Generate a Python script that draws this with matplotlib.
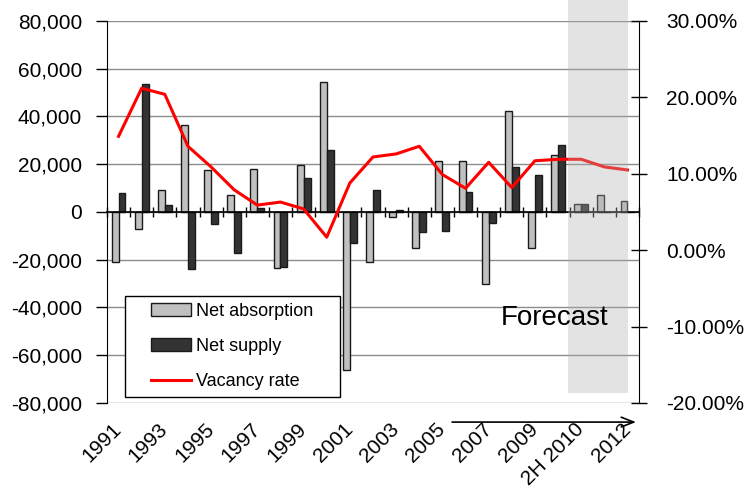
import numpy as np
import matplotlib
matplotlib.use("Agg")
import matplotlib.pyplot as plt
import matplotlib.ticker as mticker
import matplotlib.transforms as mtransforms
from matplotlib.patches import Rectangle

plt.rcParams['font.family'] = ['Liberation Sans', 'DejaVu Sans']

# Data
periods = ['1991', '1992', '1993', '1994', '1995', '1996', '1997', '1998',
           '1999', '2000', '2001', '2002', '2003', '2004', '2005', '2006',
           '2007', '2008', '2009', '1H 2010', '2H 2010', '2011', '2012']
net_absorption = [-20800, -7200, 9200, 36300, 17600, 7100, 18100, -23300,
                  19500, 54500, -66100, -20800, -2100, -14900, 21300, 21300,
                  -30300, 42100, -14900, 24000, 3300, 7200, 4700]
net_supply = [7800, 53800, 2800, -24000, -5100, -17000, 1800, -22900,
              14400, 25900, -13100, 9200, 800, -8400, -8000, 8500,
              -4500, 19000, 15600, 27900, 3300, 0, 0]
vacancy_rate = [14.9, 21.2, 20.4, 13.6, 10.9, 7.9, 5.9, 6.3,
                5.4, 1.7, 8.8, 12.2, 12.6, 13.6, 9.9, 8.1,
                11.5, 8.2, 11.7, 11.9, 11.9, 10.9, 10.5]
label_every = 2
forecast_start = 20  # first forecast category

x = np.arange(len(periods))
fig = plt.figure(figsize=(7.46, 4.95), dpi=100)
ax = fig.add_axes([0.1434, 0.1859, 0.7132, 0.7717])

ax.bar(x - 0.15, net_absorption, width=0.3, color='#c0c0c0',
       edgecolor='#1a1a1a', linewidth=1, label='Net absorption', zorder=3)
ax.bar(x + 0.15, net_supply, width=0.3, color='#333333',
       edgecolor='#1a1a1a', linewidth=1, label='Net supply', zorder=3)

ax.set_xlim(-0.5, len(periods) - 0.5)
ax.set_ylim(-80000, 80000)
ax.set_yticks(np.arange(-80000, 80001, 20000))
ax.yaxis.set_major_formatter(mticker.FuncFormatter(lambda v, p: f'{v:,.0f}'))
ax.grid(axis='y', color='#8c8c8c', linewidth=1, zorder=0)
ax.set_axisbelow(True)
ax.tick_params(axis='y', direction='out', length=8, width=1, pad=10,
               labelsize=15)

ax.spines['top'].set_visible(False)
ax.spines['right'].set_visible(False)
ax.spines['left'].set_color('black')
ax.spines['bottom'].set_position(('data', 0))
ax.spines['bottom'].set_color('black')
ax.spines['bottom'].set_linewidth(1.2)
ax.spines['bottom'].set_zorder(4)
ax.set_xticks(np.arange(-0.5, len(periods), 1))
ax.tick_params(axis='x', direction='inout', length=7, width=1,
               labelbottom=False)

# category labels at the bottom of the plot
sec = ax.secondary_xaxis('bottom')
sec.set_xticks(x[::label_every], periods[::label_every])
sec.spines['bottom'].set_visible(False)
sec.tick_params(length=0, pad=17, labelsize=15)
for lbl in sec.get_xticklabels():
    lbl.set(rotation=45, ha='right', va='center', rotation_mode='anchor')

ax2 = ax.twinx()
ax2.plot(x, vacancy_rate, color='#ff0000', linewidth=2.2,
         label='Vacancy rate', zorder=3)
ax2.set_ylim(-20, 30)
ax2.set_yticks(np.arange(-20, 31, 10))
ax2.yaxis.set_major_formatter(mticker.FuncFormatter(lambda v, p: f'{v:.2f}%'))
ax2.tick_params(axis='y', direction='inout', length=11, width=1, pad=14,
                labelsize=15)
for s in ['top', 'bottom', 'left']:
    ax2.spines[s].set_visible(False)
ax2.spines['right'].set_color('black')

# forecast shading over the last categories
trans = mtransforms.blended_transform_factory(ax2.transData, ax2.transAxes)
ax2.add_patch(Rectangle((forecast_start - 0.57, 0.026), 2.6, 1.03,
                        transform=trans, facecolor='#b0b0b0', alpha=0.35,
                        edgecolor='none', clip_on=False, zorder=5))
ax2.text(forecast_start - 1.17, 0.204, 'Forecast', transform=trans,
         fontsize=20, ha='center', va='baseline', zorder=6)

# arrow under the axis
ax2.annotate('', xy=(22.37, -0.05), xytext=(14.42, -0.05),
             xycoords=trans, textcoords=trans,
             arrowprops=dict(arrowstyle='->,head_length=0.9,head_width=0.35',
                             color='black', linewidth=1.2, shrinkA=0,
                             shrinkB=0), annotation_clip=False)

# legend with a wider frame than matplotlib's uniform padding gives
ax2.add_patch(Rectangle((0.034, 0.016), 0.404, 0.264, transform=ax2.transAxes,
                        facecolor='white', edgecolor='black', linewidth=1,
                        zorder=6))
h1, l1 = ax.get_legend_handles_labels()
h2, l2 = ax2.get_legend_handles_labels()
leg = ax2.legend(h1 + h2, l1 + l2, loc='center',
                 bbox_to_anchor=(0.236, 0.148), borderaxespad=0,
                 fontsize=13, frameon=False, handlelength=2.2,
                 labelspacing=1.02, borderpad=0, handletextpad=0.3)
leg.set_zorder(7)

fig.savefig('out.png', dpi=100)
